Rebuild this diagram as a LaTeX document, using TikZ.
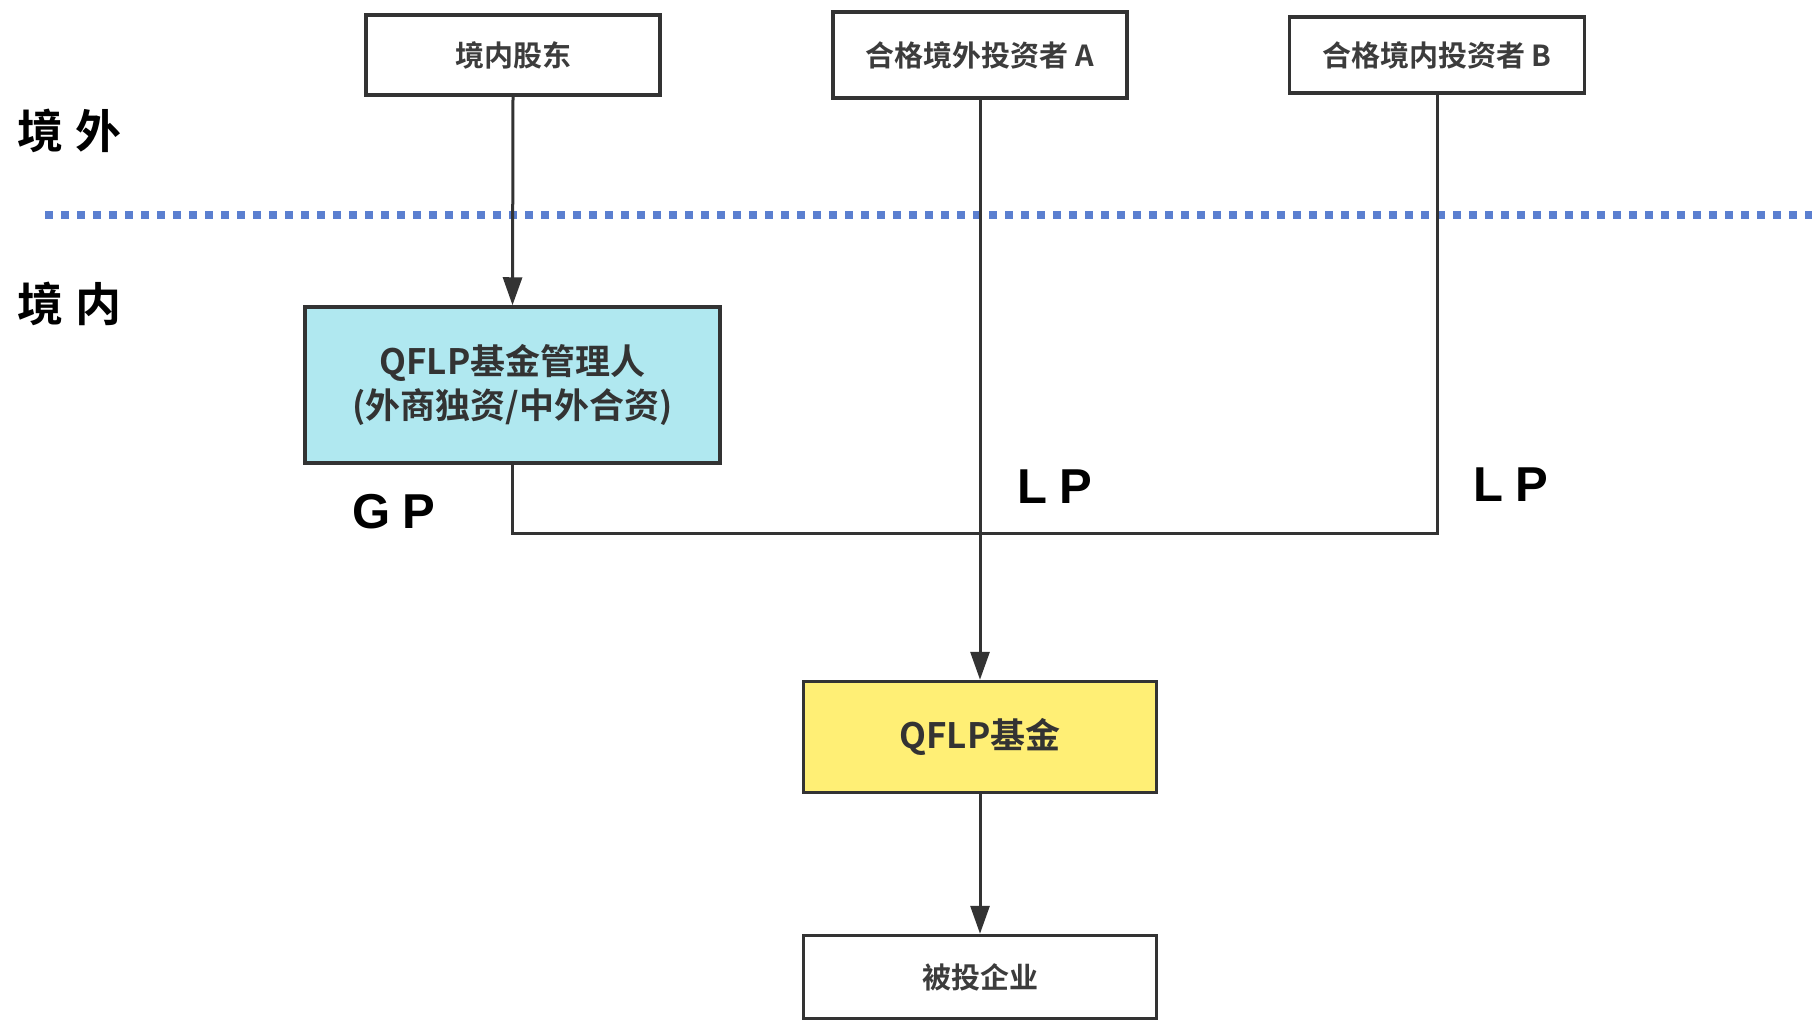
\documentclass[tikz,border=0pt]{standalone}
\usepackage{fontspec}
\setmainfont{Liberation Sans}
\newfontfamily\cjk{Noto Sans CJK SC}[BoldFont={Noto Sans CJK SC Bold}]
\usetikzlibrary{arrows.meta}
\definecolor{linegray}{HTML}{333333}
\definecolor{textgray}{HTML}{3C3C3C}
\definecolor{dotblue}{HTML}{5B7FD0}
\definecolor{boxcyan}{HTML}{B0E8F0}
\definecolor{boxyellow}{HTML}{FFEF75}
\tikzset{
  x=1pt, y=1pt,
  boxbase/.style={draw=linegray, line width=3.5pt, rectangle, inner sep=0pt, align=center, text=linegray},
  whitebox/.style={boxbase, fill=white, text=textgray, font=\cjk\bfseries\fontsize{29}{34}\selectfont},
  cyanbox/.style={boxbase, fill=boxcyan, font=\cjk\bfseries\fontsize{35}{44}\selectfont},
  yellowbox/.style={boxbase, fill=boxyellow, font=\cjk\bfseries\fontsize{35}{44}\selectfont},
  conn/.style={draw=linegray, line width=3pt},
  arr/.style={conn, -{Triangle[length=28pt,width=19pt]}},
  zone/.style={anchor=west, inner sep=0pt, font=\cjk\bfseries\fontsize{46}{50}\selectfont, text=black},
  role/.style={inner sep=0pt, font=\bfseries\fontsize{49}{52}\selectfont, text=black},
}
\begin{document}
\begin{tikzpicture}
\useasboundingbox (0,0) rectangle (1819,-1021);
% dotted border line
\draw[dotblue, line width=8pt, dash pattern=on 8pt off 8pt] (45,-215) -- (1812,-215);
% zone labels
\node[zone] (out) at (17,-131) {境\hspace{12pt}外};
\node[zone] (in) at (17,-304) {境\hspace{12pt}内};
% boxes
\node[whitebox, minimum width=294pt, minimum height=80pt] (sh) at (513,-55) {境内股东};
\node[whitebox, minimum width=294pt, minimum height=86pt] (ia) at (980,-55) {合格境外投资者 A};
\node[whitebox, minimum width=295pt, minimum height=76pt] (ib) at (1437,-55) {合格境内投资者 B};
\node[cyanbox, minimum width=415pt, minimum height=156pt] (mgr) at (512.5,-385) {QFLP基金管理人\\(外商独资/中外合资)};
\node[yellowbox, minimum width=353pt, minimum height=111pt] (fund) at (980,-737) {QFLP基金};
\node[whitebox, minimum width=353pt, minimum height=83pt] (tgt) at (980,-977) {被投企业};
% junction coordinates
\coordinate (jl) at (mgr.south |- 0,-533);
\coordinate (jr) at (ib.south |- 0,-533);
% connectors
\draw[arr] (sh.south) -- (mgr.north);
\draw[conn] (mgr.south) -- (jl) -- (jr) -- (ib.south);
\draw[arr] (ia.south) -- (fund.north);
\draw[arr] (fund.south) -- (tgt.north);
% role labels
\node[role] (gp) at (394,-512) {G\hspace{12pt}P};
\node[role] (lpa) at (1055,-487) {L\hspace{12pt}P};
\node[role] (lpb) at (1511,-485) {L\hspace{12pt}P};
\end{tikzpicture}
\end{document}
